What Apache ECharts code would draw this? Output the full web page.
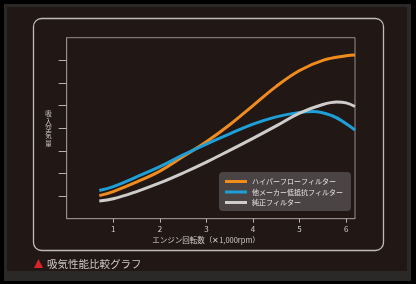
<!DOCTYPE html>
<html>
<head>
<meta charset="utf-8">
<script src="https://cdn.jsdelivr.net/npm/echarts@6/dist/echarts.min.js"></script>
<style>
  html, body { margin: 0; padding: 0; background: #000; }
  #chart { width: 416px; height: 284px; }
</style>
</head>
<body>
<div id="chart"></div>
<script>
// 吸気性能比較グラフ
var rpm = [0.7, 1, 1.5, 2, 2.5, 3, 3.5, 4, 4.5, 5, 5.5, 6, 6.19];
var hyperFlow = [1.02, 1.2, 1.62, 2.1, 2.75, 3.4, 4.15, 5.0, 5.85, 6.55, 7.0, 7.2, 7.23];
var otherRpm = [0.7, 1, 1.5, 2, 2.5, 3, 3.5, 4, 4.5, 5, 5.3, 5.7, 6, 6.19];
var otherMaker = [1.25, 1.42, 1.85, 2.3, 2.82, 3.3, 3.75, 4.18, 4.5, 4.7, 4.74, 4.55, 4.2, 3.92];
var genuineRpm = [0.7, 1, 1.5, 2, 2.5, 3, 3.5, 4, 4.5, 5, 5.5, 5.8, 6, 6.19];
var genuine = [0.78, 0.88, 1.2, 1.58, 2.02, 2.5, 3.02, 3.55, 4.1, 4.67, 5.05, 5.16, 5.12, 4.96];
var xTicks = [1, 2, 3, 4, 5, 6];
var yTicks = [1, 2, 3, 4, 5, 6, 7];
var names = ['ハイパーフローフィルター', '他メーカー低抵抗フィルター', '純正フィルター'];

function pairs(xs, ys) {
    return xs.map(function (x, i) { return [x, ys[i]]; });
}

var font = '"Noto Sans CJK JP", "Noto Sans", sans-serif';
var myChart = echarts.init(document.getElementById('chart'));

option = {
    backgroundColor: '#000',
    textStyle: { fontFamily: font },
    graphic: [
        { type: 'rect', shape: { x: 4, y: 4, width: 407, height: 277 }, style: { fill: '#2b2828' }, z: -10 },
        { type: 'rect', shape: { x: 7, y: 7, width: 400, height: 264 }, style: { fill: '#211816' }, z: -9 },
        {
            type: 'rect', shape: { x: 33.5, y: 18.5, width: 350, height: 232, r: 8 },
            style: { fill: 'none', stroke: '#c2bab5', lineWidth: 1.3 }, z: -8
        },
        {
            // 縦書きの軸名
            type: 'text', x: 48.5, y: 128.5,
            style: { text: '吸\n入\n空\n気\n量', fill: '#cfcac6', font: '6.5px ' + font, lineHeight: 7.4, align: 'center', verticalAlign: 'middle' }
        },
        {
            type: 'text', x: 206, y: 240,
            style: { text: 'エンジン回転数（✕1,000rpm）', fill: '#cfcac6', font: '7.5px ' + font, align: 'center', verticalAlign: 'middle' }
        },
        {
            type: 'polygon', shape: { points: [[38.5, 259], [34, 268], [43, 268]] },
            style: { fill: '#d9222b' }
        },
        {
            type: 'text', x: 47, y: 264,
            style: { text: '吸気性能比較グラフ', fill: '#cdc8c4', font: '10.5px ' + font, verticalAlign: 'middle' }
        }
    ],
    grid: {
        left: 66.7,
        top: 37.7,
        right: 61,
        bottom: 65.3,
        show: true,
        borderColor: '#958d89',
        borderWidth: 1,
        backgroundColor: 'transparent'
    },
    legend: {
        data: names,
        orient: 'vertical',
        left: 219,
        top: 172,
        width: 129,
        backgroundColor: '#4a4444',
        borderRadius: 4,
        padding: [6, 8, 5, 6],
        itemGap: 3.5,
        itemWidth: 22,
        itemHeight: 3,
        icon: 'rect',
        textStyle: { color: '#e6e2df', fontSize: 7, fontFamily: font }
    },
    xAxis: {
        type: 'value',
        min: 0,
        max: 6.19,
        splitLine: { show: false },
        axisLine: { lineStyle: { color: '#958d89', width: 1 } },
        axisTick: { customValues: xTicks, length: 4, lineStyle: { color: '#b8b0ac' } },
        axisLabel: { customValues: xTicks, color: '#d2cdc9', fontSize: 8, margin: 6 }
    },
    yAxis: {
        type: 'value',
        min: 0,
        max: 8,
        splitLine: { show: false },
        axisLine: { show: true, lineStyle: { color: '#958d89', width: 1 } },
        axisTick: { customValues: yTicks, length: 8, lineStyle: { color: '#b8b0ac' } },
        axisLabel: { show: false }
    },
    series: [
        {
            name: names[0], type: 'line', smooth: 0.4, showSymbol: false,
            data: pairs(rpm, hyperFlow),
            itemStyle: { color: '#f08c1e' },
            lineStyle: { color: '#f08c1e', width: 3 }
        },
        {
            name: names[1], type: 'line', smooth: 0.4, showSymbol: false,
            data: pairs(otherRpm, otherMaker),
            itemStyle: { color: '#1e9fd8' },
            lineStyle: { color: '#1e9fd8', width: 3 }
        },
        {
            name: names[2], type: 'line', smooth: 0.4, showSymbol: false,
            data: pairs(genuineRpm, genuine),
            itemStyle: { color: '#cfcdcc' },
            lineStyle: { color: '#cfcdcc', width: 3 }
        }
    ]
};

myChart.setOption(option);
</script>
</body>
</html>
